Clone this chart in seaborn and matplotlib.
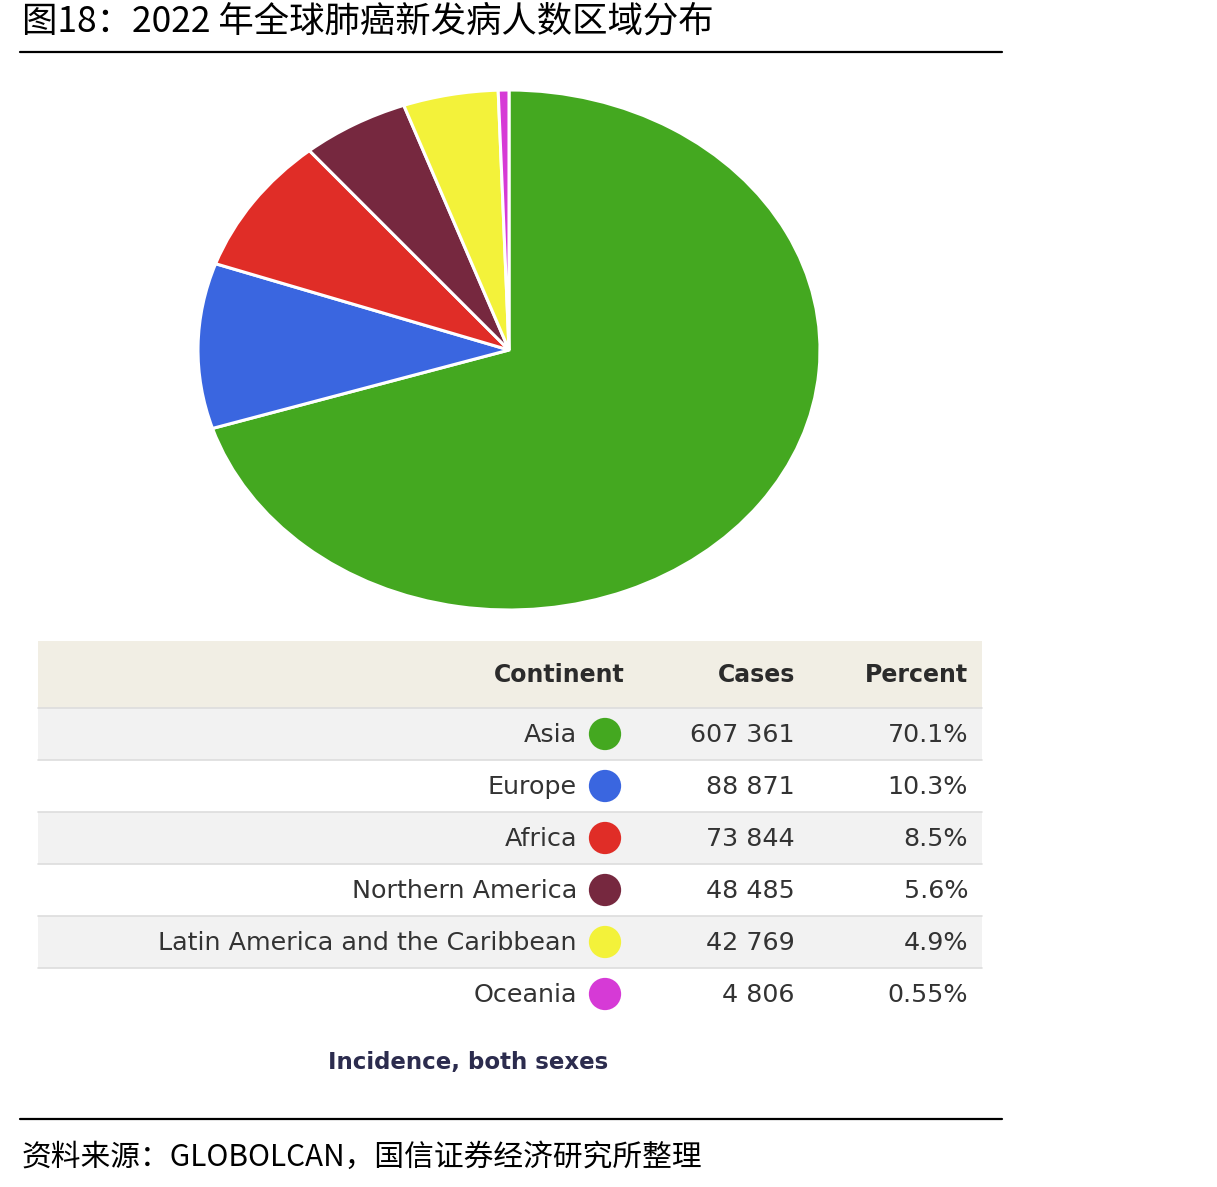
import matplotlib
matplotlib.use("Agg")
import matplotlib.pyplot as plt
import seaborn as sns
from matplotlib.patches import Rectangle

sns.set_theme(style="white")
plt.rcParams['font.family'] = ['Noto Sans CJK SC', 'DejaVu Sans']

# ---------------- data ----------------
continents = ["Asia", "Europe", "Africa", "Northern America",
              "Latin America and the Caribbean", "Oceania"]
cases = [607361, 88871, 73844, 48485, 42769, 4806]
cases_labels = ["607 361", "88 871", "73 844", "48 485", "42 769", "4 806"]
percent_labels = ["70.1%", "10.3%", "8.5%", "5.6%", "4.9%", "0.55%"]
colors = ["#44a820", "#3a66e0", "#e02d27", "#76283f", "#f3f23a", "#d63ad6"]
headers = ["Continent", "Cases", "Percent"]
title = "图18：2022 年全球肺癌新发病人数区域分布"
subtitle = "Incidence, both sexes"
source = "资料来源：GLOBOLCAN，国信证券经济研究所整理"

W, H = 1217, 1187
fig = plt.figure(figsize=(W / 100, H / 100), dpi=100)
fig.patch.set_facecolor("white")

# overlay axes in pixel coordinates
ov = fig.add_axes([0, 0, 1, 1])
ov.set_xlim(0, W)
ov.set_ylim(H, 0)
ov.axis("off")

# title and rules
ov.text(22, 22, title, fontsize=25.5, va="center", ha="left", color="black",
        family=['Noto Sans CJK SC', 'DejaVu Sans'])
ov.plot([20, 1002], [52, 52], color="black", lw=1.6)
ov.plot([20, 1002], [1119, 1119], color="black", lw=1.6)
ov.text(22, 1157, source, fontsize=21.4, va="center", ha="left", color="black",
        family=['Noto Sans CJK SC', 'DejaVu Sans'])

# ---------------- pie ----------------
px0, px1, py0, py1 = 198, 820, 90, 610
pax = fig.add_axes([px0 / W, 1 - py1 / H, (px1 - px0) / W, (py1 - py0) / H])
pax.pie(cases, colors=colors, startangle=90, counterclock=False,
        wedgeprops=dict(edgecolor="white", linewidth=2.2))
pax.set_aspect("auto")
pax.set_xlim(-1.0, 1.0)
pax.set_ylim(-1.0, 1.0)
pax.axis("off")

# ---------------- table ----------------
tx0, tx1 = 38, 982
head_top, head_bot = 641, 708
row_h = 52
tfont = ['DejaVu Sans']
txt_col = "#333333"

ov.add_patch(Rectangle((tx0, head_top), tx1 - tx0, head_bot - head_top,
                       facecolor="#f1eee4", edgecolor="none", zorder=0))
hy = (head_top + head_bot) / 2 + 1
col_right = [625, 795, 968]
for h, xr in zip(headers, col_right):
    ov.text(xr, hy, h, ha="right", va="center", fontsize=17, fontweight="bold",
            color="#2b2b2b", family=tfont)

for i, (name, c, p, col) in enumerate(zip(continents, cases_labels, percent_labels, colors)):
    top = head_bot + i * row_h
    if i % 2 == 0:
        ov.add_patch(Rectangle((tx0, top), tx1 - tx0, row_h,
                               facecolor="#f2f2f2", edgecolor="none", zorder=0))
    ov.plot([tx0, tx1], [top, top], color="#dddddd", lw=1.2, zorder=1)
    cy = top + row_h / 2 + 1
    ov.text(577, cy, name, ha="right", va="center", fontsize=18.3, color=txt_col, family=tfont)
    ov.text(795, cy, c, ha="right", va="center", fontsize=18.3, color=txt_col, family=tfont)
    ov.text(968, cy, p, ha="right", va="center", fontsize=18.3, color=txt_col, family=tfont)
    ov.scatter([605], [cy - 1], s=540, color=col, edgecolor="none", zorder=3)

ov.text(468, 1062, subtitle, ha="center", va="center", fontsize=16.5, fontweight="bold",
        color="#2c2c4e", family=tfont)

fig.savefig("out.png", dpi=100, facecolor="white")
